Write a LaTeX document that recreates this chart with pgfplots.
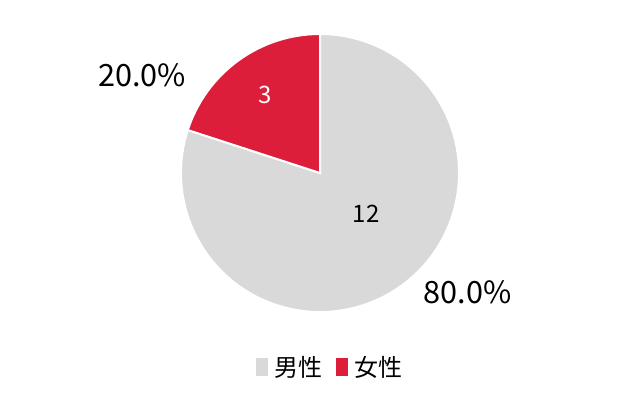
\documentclass[border=0pt]{standalone}
\usepackage{pgfplots}
\usepackage{pgfplotstable}
\pgfplotsset{compat=1.18}
\usepackage{fontspec}
\setmainfont{Noto Sans CJK JP}

\definecolor{pieGray}{HTML}{D9D9D9}
\definecolor{pieRed}{HTML}{DC1E3A}

% counts per group
\pgfplotstableread{
sex value
male 12
female 3
}\piedata

\begin{document}
\begin{tikzpicture}
\pgfplotstablegetelem{0}{value}\of\piedata \let\vmale\pgfplotsretval
\pgfplotstablegetelem{1}{value}\of\piedata \let\vfemale\pgfplotsretval
\pgfmathsetmacro\total{\vmale+\vfemale}
\pgfmathsetmacro\aend{90+360*\vfemale/\total}
\pgfmathsetmacro\pfemale{100*\vfemale/\total}
\pgfmathsetmacro\pmale{100*\vmale/\total}
\path (0,0) rectangle (480pt,300pt);
\begin{axis}[
  at={(0,0)}, anchor=south west,
  x=104.25pt, y=104.25pt,
  xmin=-2.3022, xmax=2.3022, ymin=-1.6331, ymax=1.2446,
  hide axis, clip=false,
  /pgf/number format/assume math mode=true,
  legend columns=-1,
  legend style={draw=none, fill=none, at={(0.516,0.0825)}, anchor=center,
    font=\fontsize{18pt}{22pt}\selectfont,
    /tikz/every odd column/.append style={column sep=3pt},
    /tikz/every even column/.append style={column sep=8pt}},
  legend image code/.code={\fill[#1] (0pt,-6.4pt) rectangle (9pt,6.4pt);},
]
\addlegendimage{fill=pieGray, draw=none}
\addlegendentry{男性}
\addlegendimage{fill=pieRed, draw=none}
\addlegendentry{女性}

\fill[pieGray, draw=white, line width=1.5pt] (axis cs:0,0) -- (axis cs:{cos(\aend)},{sin(\aend)})
  arc[start angle=\aend, end angle=450, radius=104.25pt] -- cycle;
\fill[pieRed, draw=white, line width=1.5pt] (axis cs:0,0) -- (axis cs:0,1)
  arc[start angle=90, end angle=\aend, radius=104.25pt] -- cycle;

\node[font=\fontsize{18pt}{20pt}\selectfont, text=white] at (axis cs:-0.392,0.565) {\pgfmathprintnumber{\vfemale}};
\node[font=\fontsize{18pt}{20pt}\selectfont] at (axis cs:0.331,-0.291) {\pgfmathprintnumber{\vmale}};
\node[font=\fontsize{23pt}{26pt}\selectfont] at (axis cs:-1.2806,0.7014)
  {\pgfmathprintnumber[fixed, fixed zerofill, precision=1]{\pfemale}\%};
\node[font=\fontsize{23pt}{26pt}\selectfont] at (axis cs:1.0612,-0.8597)
  {\pgfmathprintnumber[fixed, fixed zerofill, precision=1]{\pmale}\%};
\end{axis}
\end{tikzpicture}
\end{document}
